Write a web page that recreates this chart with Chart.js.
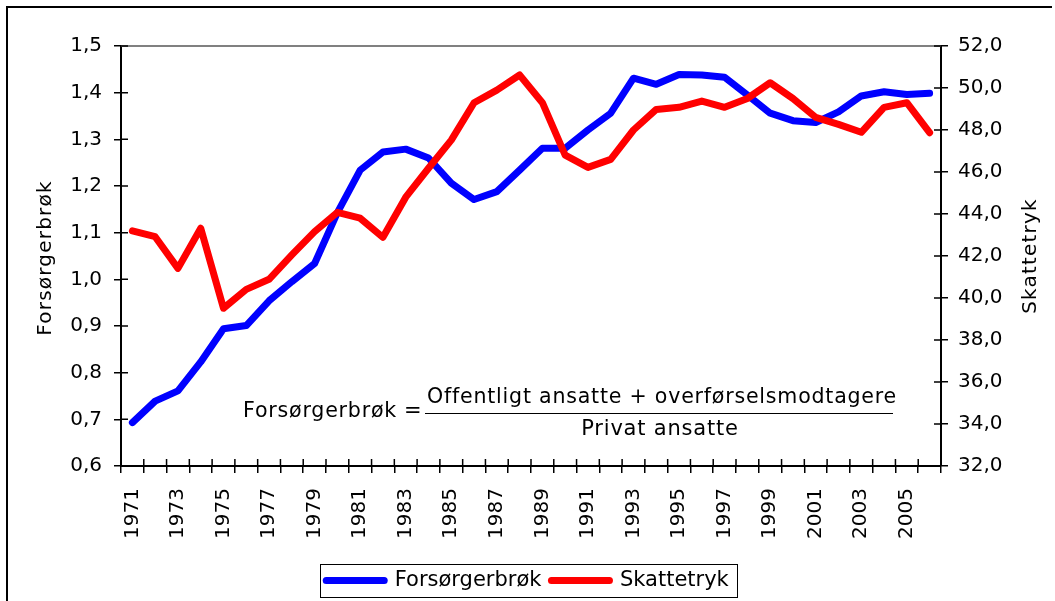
<!DOCTYPE html>
<html>
<head>
<meta charset="utf-8">
<script src="https://cdn.jsdelivr.net/npm/chart.js@4/dist/chart.umd.min.js"></script>
<style>
  html, body { margin: 0; padding: 0; background: #fff; }
  #wrap { width: 1055px; height: 601px; position: relative; }
</style>
</head>
<body>
<div id="wrap"><canvas id="chart"></canvas></div>
<script>
const YEARS = [
  "1971", "1972", "1973", "1974", "1975", "1976", "1977", "1978", "1979", "1980",
  "1981", "1982", "1983", "1984", "1985", "1986", "1987", "1988", "1989", "1990",
  "1991", "1992", "1993", "1994", "1995", "1996", "1997", "1998", "1999", "2000",
  "2001", "2002", "2003", "2004", "2005", "2006",
];
const FORSORGERBROK = [
  0.693, 0.739, 0.761, 0.823, 0.894, 0.901, 0.954, 0.995, 1.034, 1.143,
  1.234, 1.273, 1.279, 1.260, 1.206, 1.171, 1.188, 1.234, 1.281, 1.281,
  1.320, 1.356, 1.431, 1.418, 1.439, 1.438, 1.433, 1.395, 1.356, 1.340,
  1.336, 1.359, 1.393, 1.402, 1.396, 1.399,
];
const SKATTETRYK = [
  43.2, 42.92, 41.41, 43.32, 39.51, 40.41, 40.89, 42.05, 43.16, 44.08,
  43.8, 42.89, 44.8, 46.18, 47.52, 49.3, 49.9, 50.62, 49.3, 46.8,
  46.22, 46.6, 48.0, 48.98, 49.08, 49.38, 49.08, 49.5, 50.25, 49.5,
  48.6, 48.27, 47.89, 49.08, 49.3, 47.87,
];
const LEFT_RANGE = [0.6, 1.5, 0.1];
const RIGHT_RANGE = [32, 52, 2];
const LEFT_TITLE = "Forsørgerbrøk";
const RIGHT_TITLE = "Skattetryk";
const FORMULA_LHS = "Forsørgerbrøk";
const FORMULA_EQ = "=";
const FORMULA_NUM = "Offentligt ansatte + overførselsmodtagere";
const FORMULA_DEN = "Privat ansatte";

const FONT = "'DejaVu Sans', Verdana, sans-serif";

function comma(v, d) {
  return Number(v).toFixed(d).replace(".", ",");
}

// frame, top line of plot, inner tick halves, axis titles, formula, legend box
const extras = {
  id: "extras",
  afterDraw(chart) {
    const ctx = chart.ctx;
    const a = chart.chartArea;
    ctx.save();

    ctx.strokeStyle = "#000";
    ctx.lineWidth = 2;
    ctx.beginPath();
    ctx.moveTo(7, 601);
    ctx.lineTo(7, 7);
    ctx.lineTo(1052, 7);
    ctx.stroke();

    ctx.strokeStyle = "#808080";
    ctx.lineWidth = 2;
    ctx.beginPath();
    ctx.moveTo(a.left, a.top);
    ctx.lineTo(a.right, a.top);
    ctx.stroke();

    ctx.strokeStyle = "#000";
    ctx.lineWidth = 1.5;
    ctx.beginPath();
    const yl = chart.scales.y;
    yl.ticks.forEach((t, i) => {
      const p = yl.getPixelForTick(i);
      ctx.moveTo(a.left, p);
      ctx.lineTo(a.left + 7, p);
    });
    const yr = chart.scales.y1;
    yr.ticks.forEach((t, i) => {
      const p = yr.getPixelForTick(i);
      ctx.moveTo(a.right - 7, p);
      ctx.lineTo(a.right, p);
    });
    const xs = chart.scales.x;
    for (let i = 0; i <= YEARS.length; i++) {
      const p = xs.getPixelForValue(i - 0.5);
      ctx.moveTo(p, a.bottom - 7);
      ctx.lineTo(p, a.bottom);
    }
    ctx.stroke();

    ctx.fillStyle = "#000";
    ctx.font = "20px " + FONT;
    ctx.letterSpacing = "1.2px";
    ctx.textAlign = "center";
    ctx.textBaseline = "middle";
    const midY = (a.top + a.bottom) / 2;
    ctx.save();
    ctx.translate(46, midY + 2);
    ctx.rotate(-Math.PI / 2);
    ctx.fillText(LEFT_TITLE, 0, 0);
    ctx.restore();
    ctx.save();
    ctx.translate(1031, midY);
    ctx.rotate(-Math.PI / 2);
    ctx.fillText(RIGHT_TITLE, 0, 0);
    ctx.restore();

    ctx.font = "21px " + FONT;
    ctx.letterSpacing = "0.8px";
    ctx.textAlign = "left";
    ctx.fillText(FORMULA_LHS, 243, 412, 154);
    ctx.fillText(FORMULA_EQ, 404, 412);
    ctx.textAlign = "center";
    ctx.fillText(FORMULA_NUM, 662, 398, 470);
    ctx.fillText(FORMULA_DEN, 660, 430);
    ctx.letterSpacing = "0px";
    ctx.lineWidth = 1;
    ctx.beginPath();
    ctx.moveTo(425, 413.5);
    ctx.lineTo(893, 413.5);
    ctx.stroke();

    const boxes = chart.legend.legendHitBoxes;
    if (boxes.length) {
      const l = Math.min(...boxes.map((b) => b.left)) - 6;
      const r = Math.max(...boxes.map((b) => b.left + b.width)) + 8;
      const t = Math.min(...boxes.map((b) => b.top)) - 6;
      const btm = Math.max(...boxes.map((b) => b.top + b.height)) + 6;
      ctx.lineWidth = 1;
      ctx.strokeStyle = "#000";
      ctx.strokeRect(Math.round(l) + 0.5, Math.round(t) + 0.5, Math.round(r - l), Math.round(btm - t));
    }
    ctx.restore();
  },
};

new Chart(document.getElementById("chart"), {
  type: "line",
  data: {
    labels: YEARS,
    datasets: [
      {
        label: "Forsørgerbrøk",
        data: FORSORGERBROK,
        yAxisID: "y",
        borderColor: "#0000ff",
        backgroundColor: "#0000ff",
        order: 1,
      },
      {
        label: "Skattetryk",
        data: SKATTETRYK,
        yAxisID: "y1",
        borderColor: "#ff0000",
        backgroundColor: "#ff0000",
        order: 0,
      },
    ],
  },
  options: {
    responsive: true,
    maintainAspectRatio: false,
    animation: false,
    layout: { padding: { top: 46, left: 0, right: 0, bottom: 0 } },
    elements: {
      point: { radius: 0 },
      line: { borderWidth: 7, tension: 0, borderCapStyle: "round", borderJoinStyle: "round" },
    },
    plugins: {
      tooltip: { enabled: false },
      legend: {
        position: "bottom",
        labels: {
          usePointStyle: true,
          pointStyle: "line",
          pointStyleWidth: 58,
          boxHeight: 7,
          padding: 10,
          color: "#000",
          font: { family: FONT, size: 21 },
          sort: (p, q) => p.datasetIndex - q.datasetIndex,
          generateLabels: (chart) =>
            Chart.defaults.plugins.legend.labels.generateLabels(chart).map((item) => ({
              ...item,
              lineWidth: 7,
              lineCap: "round",
              strokeStyle: chart.data.datasets[item.datasetIndex].borderColor,
            })),
        },
      },
    },
    scales: {
      x: {
        offset: true,
        grid: { offset: true, drawOnChartArea: false, tickLength: 7, color: "#000", lineWidth: 1.5 },
        border: { color: "#000", width: 2 },
        ticks: {
          autoSkip: false,
          maxRotation: 90,
          minRotation: 90,
          padding: 15,
          color: "#000",
          font: { family: FONT, size: 20 },
          callback: (v, i) => (i % 2 === 0 ? YEARS[i] : ""),
        },
        afterFit: (s) => {
          s.height = 601 - 466 - s.chart.legend.height;
        },
      },
      y: {
        position: "left",
        min: LEFT_RANGE[0],
        max: LEFT_RANGE[1],
        grid: { drawOnChartArea: false, tickLength: 7, color: "#000", lineWidth: 1.5 },
        border: { color: "#000", width: 2 },
        ticks: {
          stepSize: LEFT_RANGE[2],
          padding: 12,
          color: "#000",
          font: { family: FONT, size: 20 },
          callback: (v) => comma(v, 1),
        },
        afterFit: (s) => {
          s.width = 121;
        },
      },
      y1: {
        position: "right",
        min: RIGHT_RANGE[0],
        max: RIGHT_RANGE[1],
        grid: { drawOnChartArea: false, tickLength: 7, color: "#000", lineWidth: 1.5 },
        border: { color: "#000", width: 2 },
        ticks: {
          stepSize: RIGHT_RANGE[2],
          padding: 10,
          color: "#000",
          font: { family: FONT, size: 20 },
          callback: (v) => comma(v, 1),
        },
        afterFit: (s) => {
          s.width = 114;
        },
      },
    },
  },
  plugins: [extras],
});
</script>
</body>
</html>
